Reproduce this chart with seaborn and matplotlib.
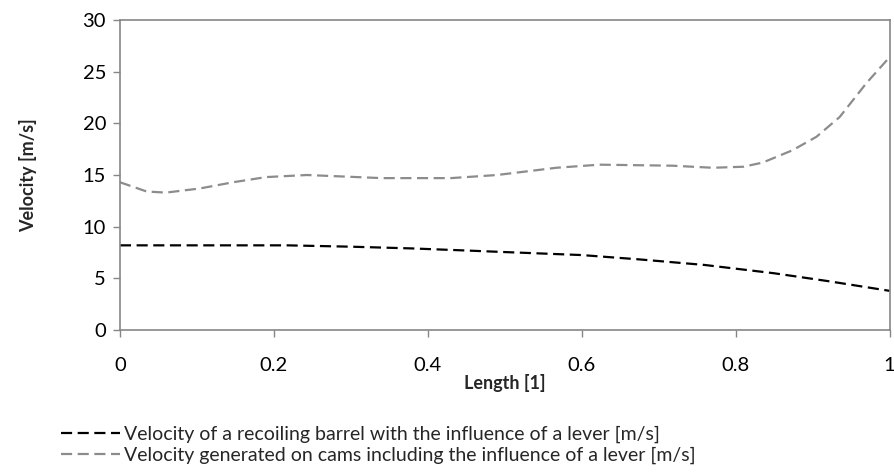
import numpy as np
import pandas as pd
import seaborn as sns
import matplotlib.pyplot as plt

# valores
x_barrel = [0.0, 0.1, 0.217, 0.30, 0.38, 0.45, 0.50, 0.60, 0.675, 0.76, 0.85, 0.92, 1.0]
v_barrel = [8.2, 8.2, 8.2, 8.07, 7.9, 7.7, 7.55, 7.26, 6.84, 6.3, 5.5, 4.74, 3.8]

x_cams = [0.0, 0.035, 0.06, 0.104, 0.147, 0.19, 0.243, 0.34, 0.43, 0.49, 0.567,
          0.623, 0.718, 0.77, 0.81, 0.835, 0.874, 0.905, 0.935, 0.97, 1.0]
v_cams = [14.3, 13.4, 13.3, 13.7, 14.3, 14.8, 15.0, 14.7, 14.7, 15.0, 15.7,
          16.0, 15.9, 15.7, 15.8, 16.2, 17.4, 18.7, 20.6, 23.9, 26.4]

label_barrel = 'Velocity of a recoiling barrel with the influence of a lever [m/s]'
label_cams = 'Velocity generated on cams including the influence of a lever [m/s]'

x_ticks = [0, 0.2, 0.4, 0.6, 0.8, 1]
x_ticklabels = ['0', '0.2', '0.4', '0.6', '0.8', '1']
y_ticks = [0, 5, 10, 15, 20, 25, 30]

sns.set_theme(style="white")
plt.rcParams['font.family'] = ['Lato', 'DejaVu Sans']

fig = plt.figure(figsize=(8.95, 4.73), dpi=100)
ax = fig.add_axes([0.134, 0.302, 0.860, 0.656])

sns.lineplot(x=x_barrel, y=v_barrel, ax=ax, color='black', linestyle=(0, (5, 2.5)),
             linewidth=1.6, label=label_barrel)
sns.lineplot(x=x_cams, y=v_cams, ax=ax, color='#8c8c8c', linestyle=(0, (5, 2.5)),
             linewidth=1.6, label=label_cams)

ax.set_xlim(0, 1)
ax.set_ylim(0, 30)
ax.set_xticks(x_ticks)
ax.set_xticklabels(x_ticklabels)
ax.set_yticks(y_ticks)
ax.tick_params(axis='both', direction='out', length=5, width=1, color='#868686',
               labelsize=14.5, labelcolor='black', pad=5, bottom=True, left=True)
ax.tick_params(axis='x', pad=14)
for sp in ax.spines.values():
    sp.set_color('#868686')
    sp.set_linewidth(1.2)

ax.set_xlabel('Length [1]', fontsize=13, fontweight='bold', labelpad=0)
ax.set_ylabel('Velocity [m/s]', fontsize=13, fontweight='bold', labelpad=33)

ax.get_legend().remove()
h, l = ax.get_legend_handles_labels()
fig.legend(h, l, loc='upper left', bbox_to_anchor=(0.06, 0.117), frameon=False,
           fontsize=14, handlelength=3.0, handletextpad=0.2, labelspacing=0.22,
           borderaxespad=0)

fig.savefig('out.png', dpi=100)
